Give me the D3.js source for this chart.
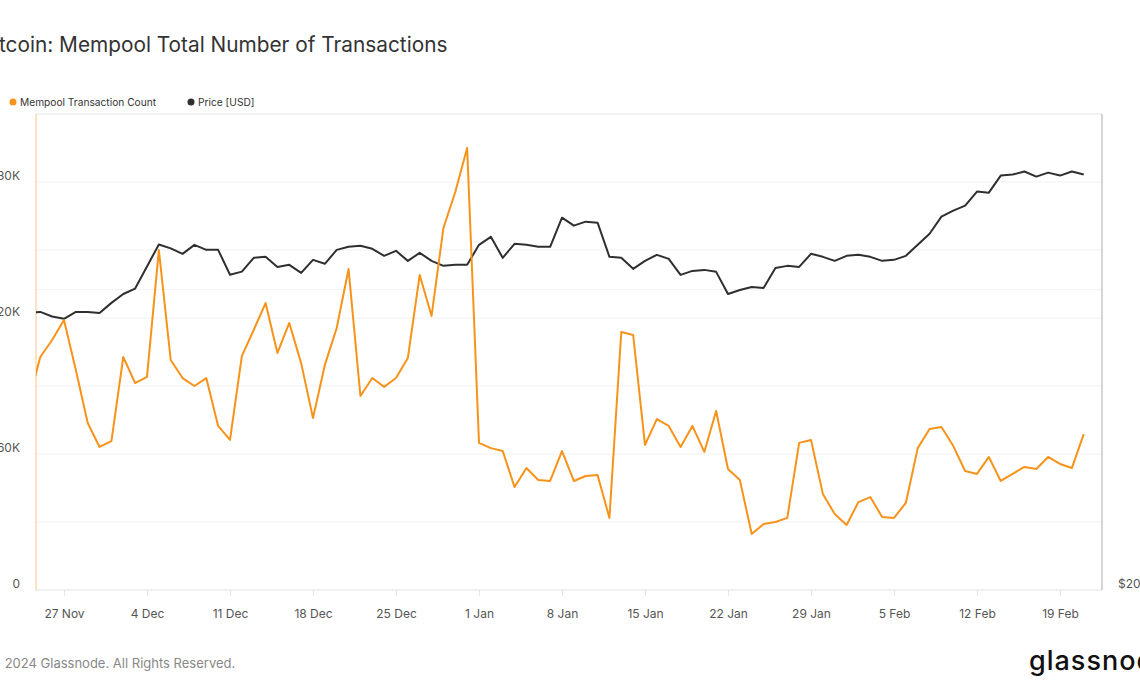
<!DOCTYPE html>
<html>
<head>
<meta charset="utf-8">
<script src="https://cdn.jsdelivr.net/npm/d3@7"></script>
<style>
  html, body { margin: 0; padding: 0; background: #fff; }
  svg { display: block; font-family: Inter, "Noto Sans", sans-serif; }
</style>
</head>
<body>
<svg id="chart" width="1140" height="694"></svg>
<script>
// ---- Data (daily, 24 Nov 2023 – 21 Feb 2024) ----
const startDate = "2023-11-24";
const mempoolCount = [
  82900, 102800, 110300, 119100, 97100, 73700, 63100, 65700, 102800, 91300,
  94000, 150000, 101500, 93500, 90000, 93500, 72400, 66200, 103200, 114700,
  126600, 104600, 117800, 100100, 75900, 99300, 115600, 141600, 85600, 93500,
  89600, 93500, 102400, 139000, 120900, 159700, 175600, 195000, 64900, 62600,
  61300, 45400, 53800, 48500, 48100, 61300, 48100, 50300, 50700, 31800,
  113800, 112500, 64000, 75400, 72400, 63100, 72400, 60900, 79000, 53400,
  48500, 24700, 29100, 30000, 31800, 64900, 66200, 42400, 33500, 28700,
  38800, 41000, 32200, 31800, 38400, 62600, 71000, 71900, 63500, 52500,
  51200, 58700, 48100, 51200, 54300, 53400, 58700, 55600, 53800, 68800
];
const priceUsd = [
  37900, 38000, 37600, 37400, 38000, 38000, 37900, 38800, 39600, 40100,
  42200, 44400, 44000, 43450, 44360, 43850, 43850, 41400, 41700, 43050,
  43150, 42160, 42360, 41580, 42850, 42460, 43850, 44160, 44260, 43960,
  43250, 43750, 42750, 43550, 42750, 42260, 42360, 42360, 44360, 45190,
  43050, 44470, 44360, 44160, 44160, 47230, 46370, 46800, 46690, 43150,
  43050, 41970, 42750, 43350, 42950, 41390, 41770, 41870, 41680, 39600,
  39970, 40250, 40160, 42060, 42260, 42160, 43450, 43150, 42750, 43250,
  43350, 43150, 42750, 42850, 43250, 44360, 45510, 47340, 48000, 48560,
  50160, 50040, 52050, 52170, 52540, 51930, 52410, 52050, 52540, 52170
];
const xTickDates = ["2023-11-27","2023-12-04","2023-12-11","2023-12-18","2023-12-25","2024-01-01",
  "2024-01-08","2024-01-15","2024-01-22","2024-01-29","2024-02-05","2024-02-12","2024-02-19"];
const leftTicks = [0, 30000, 60000, 90000, 120000, 150000, 180000, 210000];
const leftLabelled = [0, 60000, 120000, 180000];
const rightTicks = [20000, 40000];
const rightLabelled = [20000];
const titleText = "Bitcoin: Mempool Total Number of Transactions";
const legendItems = [
  { label: "Mempool Transaction Count", color: "#f7931a" },
  { label: "Price [USD]", color: "#2f2f2f" }
];
const footerText = "© 2024 Glassnode. All Rights Reserved.";

// ---- Build ----
const parse = d3.utcParse("%Y-%m-%d");
const day0 = parse(startDate);
const rows = mempoolCount.map((v, i) => ({
  date: d3.utcDay.offset(day0, i), count: v, price: priceUsd[i]
}));

const svg = d3.select("#chart");
const M = { left: 36, right: 1102, top: 114, bottom: 590 };

const x = d3.scaleUtc()
  .domain([new Date(Date.UTC(2023, 10, 24, 15, 20)), new Date(Date.UTC(2024, 1, 22, 13, 0))])
  .range([M.left, M.right]);
const yL = d3.scaleLinear().domain([0, 210000]).range([M.bottom, M.top]);
const yR = d3.scaleLog().domain([20000, 60000]).range([M.bottom, M.top]);

// gridlines
svg.append("g").selectAll("line").data(leftTicks.slice(1)).join("line")
  .attr("x1", M.left).attr("x2", M.right)
  .attr("y1", d => yL(d)).attr("y2", d => yL(d))
  .attr("stroke", "#f1f1f1").attr("stroke-width", 1);
svg.append("g").selectAll("line").data(rightTicks.slice(1)).join("line")
  .attr("x1", M.left).attr("x2", M.right)
  .attr("y1", d => yR(d)).attr("y2", d => yR(d))
  .attr("stroke", "#f1f1f1").attr("stroke-width", 1);

// frame
svg.append("line").attr("x1", M.left).attr("x2", M.right).attr("y1", M.top).attr("y2", M.top)
  .attr("stroke", "#ececec");
svg.append("line").attr("x1", M.left).attr("x2", M.right).attr("y1", M.bottom).attr("y2", M.bottom)
  .attr("stroke", "#e4e4e4");
svg.append("line").attr("x1", M.right).attr("x2", M.right).attr("y1", M.top).attr("y2", M.bottom)
  .attr("stroke", "#c8c8c8").attr("stroke-width", 1.5);
svg.append("line").attr("x1", M.left).attr("x2", M.left).attr("y1", M.top).attr("y2", M.bottom)
  .attr("stroke", "#fcd8ab").attr("stroke-width", 1.5);

// x axis
const xAxis = d3.axisBottom(x)
  .tickValues(xTickDates.map(parse))
  .tickFormat(d3.utcFormat("%-d %b"))
  .tickSize(6).tickPadding(13);
const gx = svg.append("g").attr("transform", `translate(0,${M.bottom})`).call(xAxis);
gx.select(".domain").remove();
gx.selectAll(".tick line").attr("stroke", "#e6e6e6");
gx.selectAll(".tick text").attr("fill", "#555").style("font-size", "12px")
  .style("font-family", "Inter, sans-serif");

// left axis labels
const yAxisL = d3.axisLeft(yL).tickValues(leftLabelled)
  .tickFormat(d => d === 0 ? "0" : d3.format("~s")(d).replace("k", "K"))
  .tickSize(0).tickPadding(16);
const gyl = svg.append("g").attr("transform", `translate(${M.left},-6)`).call(yAxisL);
gyl.select(".domain").remove();
gyl.selectAll(".tick text").attr("fill", "#555").style("font-size", "12px")
  .style("font-family", "Inter, sans-serif");

// right axis labels
const yAxisR = d3.axisRight(yR).tickValues(rightLabelled)
  .tickFormat(d => "$" + d3.format("~s")(d).replace("k", "K"))
  .tickSize(0).tickPadding(16);
const gyr = svg.append("g").attr("transform", `translate(${M.right},-6)`).call(yAxisR);
gyr.select(".domain").remove();
gyr.selectAll(".tick text").attr("fill", "#555").style("font-size", "12px")
  .style("font-family", "Inter, sans-serif");

// clip
svg.append("clipPath").attr("id", "plotclip").append("rect")
  .attr("x", M.left).attr("y", M.top - 10).attr("width", M.right - M.left).attr("height", M.bottom - M.top + 10);

const plot = svg.append("g").attr("clip-path", "url(#plotclip)");
plot.append("path").datum(rows)
  .attr("fill", "none").attr("stroke", "#2f2f2f").attr("stroke-width", 2)
  .attr("stroke-linejoin", "round")
  .attr("d", d3.line().x(d => x(d.date)).y(d => yR(d.price)));
plot.append("path").datum(rows)
  .attr("fill", "none").attr("stroke", "#f7931a").attr("stroke-width", 2)
  .attr("stroke-linejoin", "round")
  .attr("d", d3.line().x(d => x(d.date)).y(d => yL(d.count)));

// title (left part clipped by page edge)
const titleSize = "20.8px";
const title = svg.append("text").attr("y", 52)
  .attr("fill", "#333").style("font-size", titleSize).style("font-family", "Inter, sans-serif")
  .text(titleText);
const tmp = svg.append("text").style("font-size", titleSize).style("font-family", "Inter, sans-serif").text("Bi");
const biW = tmp.node().getComputedTextLength();
tmp.remove();
title.attr("x", -biW - 1);

// legend
const legX = [13, 191];
legendItems.forEach((it, i) => {
  svg.append("circle").attr("cx", legX[i]).attr("cy", 102).attr("r", 3.5).attr("fill", it.color);
  svg.append("text").attr("x", legX[i] + 7).attr("y", 102).attr("dy", "0.35em")
    .attr("fill", "#333").style("font-size", "10.2px").style("font-family", "Inter, sans-serif")
    .text(it.label);
});

// footer
const foot = svg.append("text").attr("y", 668).attr("fill", "#888")
  .style("font-size", "13px").style("font-family", "Inter, sans-serif").text(footerText);
const tmp2 = svg.append("text").style("font-size", "13px").style("font-family", "Inter, sans-serif").text("© ");
const cW = tmp2.node().getComputedTextLength();
tmp2.remove();
foot.attr("x", -cW + 1);

// logo
svg.append("text").attr("x", 1029).attr("y", 670).attr("fill", "#111")
  .style("font-size", "27px").style("font-weight", "500").style("font-family", "Inter, sans-serif")
  .style("letter-spacing", "1px")
  .text("glassnode");
</script>
</body>
</html>
